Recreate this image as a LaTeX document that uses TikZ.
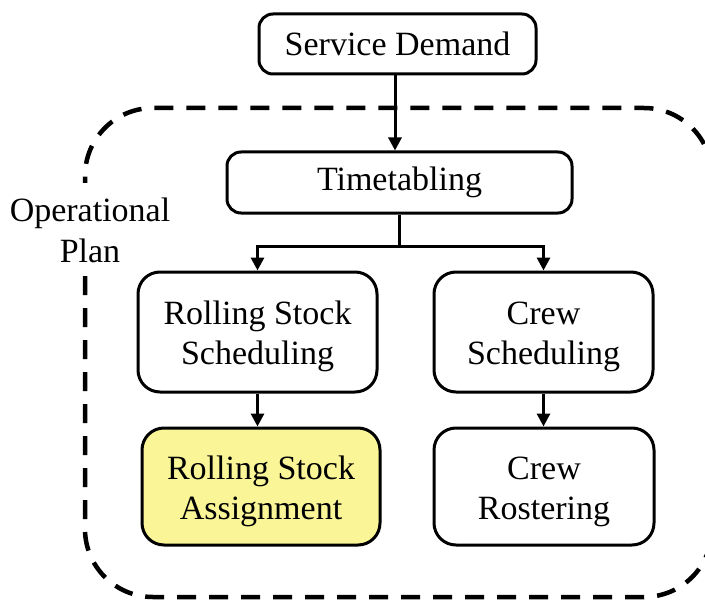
\documentclass[tikz,border=0pt]{standalone}
\usepackage{fontspec}
\setmainfont{Liberation Serif}
\usetikzlibrary{arrows.meta,calc}
\definecolor{hlyellow}{RGB}{250,246,152}
\begin{document}
\begin{tikzpicture}[x=1bp,y=-1bp,
  box/.style={draw=black, line width=3bp, rounded corners=14bp, align=center,
    font=\fontsize{34bp}{40bp}\selectfont, inner sep=0pt},
  tallbox/.style={box, rounded corners=22bp, text height=65bp, text depth=0bp},
  conn/.style={line width=3bp},
  arr/.style={conn, -{Triangle[length=13bp,width=13bp]}},
  boundary/.style={line width=4.5bp, dash pattern=on 19bp off 13bp, rounded corners=68bp}
]
\clip (0,0) rectangle (705,601);
\fill[white] (0,0) rectangle (705,601);

\node[box, minimum width=277bp, minimum height=60bp] (SD) at (397.5,44) {Service Demand};
\node[box, minimum width=345bp, minimum height=61bp] (TT) at (399.5,182.5) {Timetabling};
\node[tallbox, minimum width=239bp, minimum height=120bp] (RSS) at (257.5,332) {Rolling Stock\\Scheduling};
\node[tallbox, minimum width=219bp, minimum height=120bp] (CS) at (543.5,332) {Crew\\Scheduling};
\node[tallbox, fill=hlyellow, minimum width=238bp, minimum height=117bp] (RSA) at (261,486.5) {Rolling Stock\\Assignment};
\node[tallbox, minimum width=220bp, minimum height=117bp] (CR) at (544,486.5) {Crew\\Rostering};

\node[align=center, font=\fontsize{34bp}{41bp}\selectfont, inner sep=0pt] (OP) at (90,230) {Operational\\Plan};

\draw[boundary] (85,276) -- (85,597) -- (712,597) -- (712,108) -- (85,108) -- (85,183);

\draw[arr] ($(SD.south)+(-2.5,0)$) -- ($(SD.south |- TT.north)+(-2.5,0)$);
\coordinate (br) at ($(TT.south)+(0,32)$);
\draw[conn] (TT.south) -- (br);
\draw[arr] (br) -| (RSS.north);
\draw[arr] (br) -| (CS.north);
\draw[arr] (RSS.south) -- (RSS.south |- RSA.north);
\draw[arr] (CS.south) -- (CS.south |- CR.north);
\end{tikzpicture}
\end{document}
